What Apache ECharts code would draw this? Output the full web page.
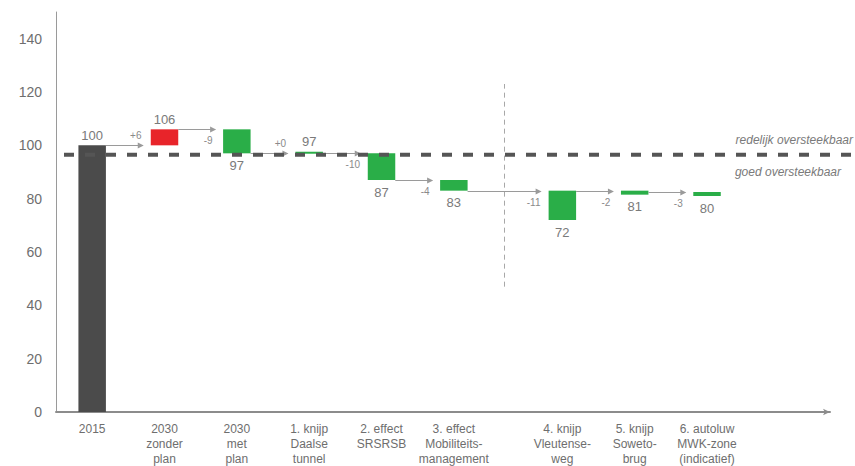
<!DOCTYPE html>
<html>
<head>
<meta charset="utf-8">
<title>Oversteekbaarheid</title>
<script src="https://cdn.jsdelivr.net/npm/echarts@6/dist/echarts.min.js"></script>
<style>
  html, body { margin: 0; padding: 0; background: #fff; }
  #chart { width: 855px; height: 466px; }
</style>
</head>
<body>
<div id="chart"></div>
<script>
// waterfall data
const categories = [
  '2015',
  '2030\nzonder\nplan',
  '2030\nmet\nplan',
  '1. knijp\nDaalse\ntunnel',
  '2. effect\nSRSRSB',
  '3. effect\nMobiliteits-\nmanagement',
  '4. knijp\nVleutense-\nweg',
  '5. knijp\nSoweto-\nbrug',
  '6. autoluw\nMWK-zone\n(indicatief)'
]
const barStart = [0, 100, 106, 97, 97, 87, 83, 83, 82.5]
const barEnd = [100, 106, 97, 97.6, 87, 83, 72, 81.5, 81]
const valueLabels = ['100', '106', '97', '97', '87', '83', '72', '81', '80']
const stepLabels = ['', '+6', '-9', '+0', '-10', '-4', '-11', '-2', '-3']
const barKind = ['base', 'increase', 'measure', 'measure', 'measure', 'measure', 'measure', 'measure', 'measure']
const barGroup = [0, 0, 0, 0, 0, 0, 1, 1, 1]
const threshold = 96.5
const thresholdLabels = ['redelijk oversteekbaar', 'goed oversteekbaar']
const dividerSpan = [47, 123]

const kindColor = { base: '#4b4b4b', increase: '#e8242a', measure: '#2aae48' }
const font = "'Liberation Sans', Arial, sans-serif"

// slot of each bar: the second group sits a half slot further right
const positions = categories.map((c, i) => i + barGroup[i] * 0.5)
const lastOfFirst = barGroup.lastIndexOf(0)
const dividerPos = (positions[lastOfFirst] + positions[lastOfFirst + 1]) / 2 - 0.05

const chart = echarts.init(document.getElementById('chart'), null, { renderer: 'svg' })

function renderBar(params, api) {
  const i = params.dataIndex
  const pos = api.value(0)
  const a = api.coord([pos, api.value(1)])
  const b = api.coord([pos, api.value(2)])
  const w = api.size([1, 0])[0] * 0.38
  const top = Math.min(a[1], b[1])
  const h = Math.max(Math.abs(a[1] - b[1]), 2)
  const rising = barEnd[i] >= barStart[i]
  const children = [{
    type: 'rect',
    shape: { x: a[0] - w / 2, y: top, width: w, height: h },
    style: { fill: kindColor[barKind[i]] }
  }, {
    type: 'text',
    x: a[0],
    y: rising ? top - 10 : top + h + 12,
    style: {
      text: valueLabels[i], fill: '#7a7a7a', fontSize: 13, fontFamily: font,
      align: 'center', verticalAlign: 'middle'
    }
  }]
  if (i > 0) {
    const prev = api.coord([positions[i - 1], barStart[i]])
    const y = Math.round(a[1]) + 0.5
    const x1 = prev[0] + w / 2
    const x2 = a[0] - w / 2 - 8
    children.push({
      type: 'line',
      shape: { x1: x1, y1: y, x2: x2, y2: y },
      style: { stroke: '#9a9a9a', lineWidth: 1 }
    }, {
      type: 'polygon',
      shape: { points: [[x2 + 1, y], [x2 - 5, y - 3], [x2 - 5, y + 3]] },
      style: { fill: '#9a9a9a' }
    }, {
      type: 'text',
      x: a[0] - w / 2 - 15,
      y: stepLabels[i][0] === '+' ? y - 10 : y + 11,
      style: {
        text: stepLabels[i], fill: '#8a8a8a', fontSize: 10, fontFamily: font,
        align: 'center', verticalAlign: 'middle'
      }
    })
  }
  return { type: 'group', children: children }
}

function renderThreshold(params, api) {
  const y = api.coord([0, api.value(1)])[1]
  const right = api.getWidth()
  return {
    type: 'group',
    children: [{
      type: 'line',
      shape: { x1: params.coordSys.x + 8, y1: y, x2: right, y2: y },
      style: { stroke: '#555', lineWidth: 4, lineDash: [10, 11] }
    }, {
      type: 'text',
      x: right - 2,
      y: y - 15,
      style: {
        text: thresholdLabels[0], fill: '#7a7a7a', fontSize: 12, fontStyle: 'italic',
        fontFamily: font, align: 'right', verticalAlign: 'middle'
      }
    }, {
      type: 'text',
      x: right - 14,
      y: y + 17,
      style: {
        text: thresholdLabels[1], fill: '#7a7a7a', fontSize: 12, fontStyle: 'italic',
        fontFamily: font, align: 'right', verticalAlign: 'middle'
      }
    }]
  }
}

function renderDivider(params, api) {
  const p1 = api.coord([api.value(0), api.value(1)])
  const p2 = api.coord([api.value(0), api.value(2)])
  return {
    type: 'line',
    shape: { x1: Math.round(p1[0]) + 0.5, y1: p1[1], x2: Math.round(p2[0]) + 0.5, y2: p2[1] },
    style: { stroke: '#a8a8a8', lineWidth: 1, lineDash: [5, 4] }
  }
}

const option = {
  animation: false,
  backgroundColor: '#fff',
  grid: { left: 56, right: 25, top: 12, bottom: 54 },
  xAxis: {
    type: 'value',
    min: -0.5,
    max: 10.2,
    interval: 0.5,
    splitLine: { show: false },
    axisTick: { show: false },
    axisLine: {
      show: true,
      onZero: false,
      symbol: ['none', 'arrow'],
      symbolSize: [5, 7],
      lineStyle: { color: '#8c8c8c', width: 2 }
    },
    axisLabel: {
      color: '#6e6e6e',
      fontSize: 12,
      fontFamily: font,
      lineHeight: 15,
      margin: 9,
      formatter: v => {
        const i = positions.findIndex(p => Math.abs(p - v) < 1e-6)
        return i < 0 ? '' : categories[i]
      }
    }
  },
  yAxis: {
    type: 'value',
    min: 0,
    max: 150,
    interval: 20,
    splitLine: { show: false },
    axisTick: { show: false },
    axisLine: { show: true, onZero: false, lineStyle: { color: '#9a9a9a', width: 1 } },
    axisLabel: {
      color: '#6e6e6e',
      fontSize: 14,
      fontFamily: font,
      margin: 14,
      showMaxLabel: false
    }
  },
  series: [
    {
      type: 'custom',
      z: 1,
      renderItem: renderDivider,
      encode: { x: 0, y: [1, 2] },
      data: [[dividerPos, dividerSpan[0], dividerSpan[1]]]
    },
    {
      type: 'custom',
      z: 2,
      renderItem: renderBar,
      encode: { x: 0, y: [1, 2] },
      data: positions.map((p, i) => [p, barStart[i], barEnd[i]])
    },
    {
      type: 'custom',
      z: 3,
      renderItem: renderThreshold,
      encode: { x: 0, y: 1 },
      data: [[0, threshold]]
    }
  ]
}

chart.setOption(option)
</script>
</body>
</html>
